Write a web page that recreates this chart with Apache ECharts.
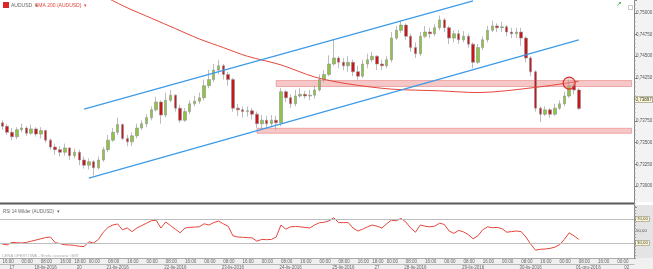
<!DOCTYPE html>
<html>
<head>
<meta charset="utf-8">
<script src="https://cdn.jsdelivr.net/npm/echarts@6/dist/echarts.min.js"></script>
<style>
html,body{margin:0;padding:0;background:#fff;}
#main{width:653px;height:269px;}
</style>
</head>
<body>
<div id="main"></div>
<script>
/* sesje: etykieta dnia, godzina od, godzina do (swiece 2h) */
var days = [
    ["17", 16, 24],
    ["18-lis-2016", 0, 22],
    ["20", 18, 24],
    ["21-lis-2016", 0, 24],
    ["22-lis-2016", 0, 24],
    ["23-lis-2016", 0, 24],
    ["24-lis-2016", 0, 24],
    ["25-lis-2016", 0, 22],
    ["27", 18, 24],
    ["28-lis-2016", 0, 24],
    ["29-lis-2016", 0, 24],
    ["30-lis-2016", 0, 24],
    ["01-gru-2016", 0, 24],
    ["02", 0, 8]
];

var firstOpen = 0.7373;
var closes = [
    0.7369,0.7362,0.7357,0.7365,0.7367,0.7361,0.7366,0.7360,0.7364,0.7353,
    0.7345,0.7342,0.7339,0.7344,0.7335,0.7339,0.7330,0.7324,0.7328,0.7321,
    0.7330,0.7342,0.7353,0.7362,0.7371,0.7355,0.7351,0.7358,0.7367,0.7372,
    0.7379,0.7388,0.7397,0.7382,0.7399,0.7405,0.7390,0.7376,0.7386,0.7395,
    0.7398,0.7402,0.7416,0.7423,0.7434,0.7439,0.7429,0.7423,0.7390,0.7388,
    0.7386,0.7387,0.7383,0.7372,0.7376,0.7372,0.7376,0.7373,0.7409,0.7402,
    0.7395,0.7404,0.7406,0.7404,0.7405,0.7411,0.7423,0.7429,0.7441,0.7448,
    0.7443,0.7439,0.7443,0.7432,0.7427,0.7441,0.7446,0.7450,0.7441,0.7439,
    0.7446,0.7471,0.7480,0.7486,0.7473,0.7460,0.7453,0.7473,0.7478,0.7476,
    0.7483,0.7492,0.7483,0.7471,0.7476,0.7469,0.7473,0.7464,0.7443,0.7460,
    0.7469,0.7480,0.7485,0.7483,0.7484,0.7478,0.7476,0.7478,0.7471,0.7448,
    0.7432,0.7390,0.7383,0.7388,0.7383,0.7390,0.7395,0.7404,0.7416,0.7411,
    0.73897
];
var highs = [
    0.7376,0.7372,0.7367,0.7368,0.7372,0.7369,0.7371,0.7368,0.7368,0.7365,
    0.7355,0.7349,0.7346,0.7349,0.7345,0.7343,0.7342,0.7334,0.7332,0.7330,
    0.7334,0.7345,0.7359,0.7367,0.7379,0.7372,0.7359,0.7362,0.7372,0.7376,
    0.7383,0.7392,0.7403,0.7399,0.7408,0.7411,0.7406,0.7394,0.7390,0.7399,
    0.7404,0.7408,0.7423,0.7434,0.7441,0.7446,0.7441,0.7432,0.7425,0.7395,
    0.7392,0.7392,0.7390,0.7386,0.7382,0.7381,0.7382,0.7381,0.7413,0.7411,
    0.7406,0.7411,0.7413,0.7410,0.7411,0.7416,0.7429,0.7434,0.7451,0.7469,
    0.7450,0.7448,0.7450,0.7446,0.7439,0.7446,0.7453,0.7455,0.7451,0.7446,
    0.7450,0.7478,0.7485,0.7491,0.7488,0.7476,0.7466,0.7478,0.7485,0.7483,
    0.7487,0.7497,0.7494,0.7485,0.7480,0.7480,0.7479,0.7476,0.7466,0.7464,
    0.7473,0.7485,0.7491,0.7488,0.7490,0.7486,0.7483,0.7483,0.7483,0.7473,
    0.7450,0.7434,0.7392,0.7392,0.7390,0.7395,0.7399,0.7409,0.7423,0.7420,
    0.7413
];
var lows = [
    0.7365,0.7359,0.7353,0.7354,0.7362,0.7358,0.7359,0.7357,0.7355,0.7350,
    0.7342,0.7336,0.7334,0.7335,0.7330,0.7332,0.7324,0.7320,0.7319,0.7312,
    0.7319,0.7328,0.7339,0.7351,0.7359,0.7353,0.7346,0.7346,0.7355,0.7365,
    0.7368,0.7376,0.7386,0.7372,0.7379,0.7397,0.7386,0.7373,0.7374,0.7383,
    0.7392,0.7395,0.7399,0.7413,0.7420,0.7429,0.7423,0.7416,0.7386,0.7381,
    0.7379,0.7380,0.7377,0.7367,0.7365,0.7367,0.7368,0.7365,0.7369,0.7397,
    0.7390,0.7392,0.7402,0.7401,0.7399,0.7401,0.7409,0.7420,0.7427,0.7439,
    0.7436,0.7434,0.7432,0.7427,0.7423,0.7425,0.7436,0.7443,0.7434,0.7434,
    0.7436,0.7443,0.7469,0.7477,0.7469,0.7455,0.7448,0.7450,0.7471,0.7471,
    0.7473,0.7480,0.7478,0.7464,0.7466,0.7464,0.7466,0.7460,0.7436,0.7441,
    0.7457,0.7466,0.7478,0.7478,0.7478,0.7473,0.7471,0.7471,0.7462,0.7443,
    0.7427,0.7386,0.7374,0.7381,0.7379,0.7381,0.7388,0.7392,0.7402,0.7406,
    0.7388
];

/* SMA 200 - punkty */
var smaIdx = [22, 26, 31, 36, 41, 46, 51, 58, 65, 72, 81, 91, 99, 111, 120];
var smaVal = [0.7517,0.7506,0.7494,0.7482,0.7470,0.7460,0.7450,0.7440,0.7426,0.7418,0.7412,0.7410,0.7408,0.7414,0.7421];

var rsi = [
    28,27,31,30.5,30,31,33,35,37,39,
    40,30.5,29,27,26.7,26,24.5,24,32,30,
    36,48,56,60,61.7,52,55,49,55,59,
    63,67,68,55,65,59,53,47,55,56,
    56.5,57,62,60,64,66.5,62,58,42,40,
    39.5,39,38.5,33,36,35.5,36,40,60,53,
    57,57.5,57,56,55,60,63.8,64.5,67,72,
    64,64,64,55,50,53,57,60,58,55,
    62,68,67,71,65,55,48,60,58,57,
    58,63,61,50,46,51,48.5,44,37,42,
    52,57,55.5,56,54,48,49,50,49,40,
    28,18,19.5,20,21,23,27,36,47,42,
    36
];

var lastPrice = 0.73897;
var upperLine = [[17, 0.7389], [98, 0.7514]];
var lowerLine = [[18, 0.7309], [120, 0.7469]];
var resistance = [57, 0.7422, 0.7415];
var support = [53, 0.73667, 0.73609];
var circleAt = [118, 0.7419];

function pad(h){ return (h < 10 ? "0" : "") + h; }

var categories = [], hourOf = [], dayStart = {}, dayMid = {};
for (var d = 0; d < days.length; d++) {
    var start = categories.length;
    for (var h = days[d][1]; h < days[d][2]; h += 2) {
        categories.push(days[d][0] + " " + pad(h) + ":00");
        hourOf.push(h);
    }
    dayStart[start] = true;
    dayMid[start + Math.floor((categories.length - start) / 2)] = days[d][0];
}

var ohlc = [];
for (var i = 0; i < closes.length; i++) {
    var o = i === 0 ? firstOpen : closes[i - 1];
    ohlc.push([o, closes[i], lows[i], highs[i]]);
}
var sma = [];
for (var i = 0; i < categories.length; i++) sma.push(null);
for (var k = 0; k < smaIdx.length; k++) sma[smaIdx[k]] = smaVal[k];

function timeTick(i){ return hourOf[i] % 8 === 0 || dayStart[i] === true; }
function dayTick(i){ return dayStart[i] === true; }
function midTick(i){ return dayMid[i] != null; }
function fmtPrice(v){ return v.toFixed(5).replace(".", ","); }

var red = "#e5463c";
var chart = echarts.init(document.getElementById("main"));
var option = {
    animation: false,
    backgroundColor: "#fff",
    textStyle: {fontFamily: "Liberation Sans"},
    grid: [
        {left: 0, top: 0, width: 634, height: 207.6, outerBoundsMode: "none"},
        {left: 0, top: 205.8, width: 634, height: 52.2, outerBoundsMode: "none"}
    ],
    xAxis: [
        {gridIndex: 0, type: "category", data: categories, boundaryGap: true, show: false},
        {
            gridIndex: 1, type: "category", data: categories, boundaryGap: true, position: "bottom",
            axisLine: {lineStyle: {color: "#aaa", width: 1}},
            axisTick: {interval: timeTick, length: 6, lineStyle: {color: "#bbb"}},
            axisLabel: {
                interval: timeTick, fontSize: 4.5, color: "#666", align: "left", margin: 1.5,
                formatter: function(v){ return v.split(" ")[1]; }
            }
        },
        {
            gridIndex: 1, type: "category", data: categories, boundaryGap: true, position: "bottom", offset: 6,
            axisLine: {lineStyle: {color: "#bbb", width: 1}},
            axisTick: {interval: dayTick, length: 5, lineStyle: {color: "#bbb"}},
            axisLabel: {
                interval: midTick, fontSize: 4.5, color: "#666", margin: 0.8,
                formatter: function(v, i){ return dayMid[i] || ""; }
            }
        }
    ],
    yAxis: [
        {
            gridIndex: 0, type: "value", position: "right",
            min: 0.7275, max: 0.751503, interval: 0.0025,
            axisLine: {show: true, lineStyle: {color: "#888"}},
            axisTick: {show: true, length: 3, lineStyle: {color: "#888"}},
            minorTick: {show: true, splitNumber: 5, length: 1.5, lineStyle: {color: "#999"}},
            splitLine: {show: false},
            axisLabel: {
                fontSize: 4.5, color: "#555", margin: 2,
                formatter: function(v){
                    var q = v / 0.0025;
                    if (Math.abs(q - Math.round(q)) > 1e-6 || v < 0.7299) return "";
                    return fmtPrice(v);
                }
            }
        },
        {
            gridIndex: 1, type: "value", position: "right",
            min: 5, max: 92, interval: 5,
            axisLine: {show: true, lineStyle: {color: "#888"}},
            axisTick: {show: true, length: 2, lineStyle: {color: "#999"}},
            splitLine: {show: false},
            axisLabel: {
                fontSize: 4.4, color: "#555", margin: 2,
                formatter: function(v){
                    if (v === 70 || v === 30) return "{b|" + v + ",00}";
                    if (v === 50) return "50,00";
                    return "";
                },
                rich: {b: {backgroundColor: "#fdf8d0", borderColor: "#777", borderWidth: 0.5, padding: [0.5, 1], fontSize: 4.4, color: "#444"}}
            }
        }
    ],
    series: [
        {
            name: "AUDUSD", type: "candlestick", xAxisIndex: 0, yAxisIndex: 0,
            data: ohlc, barWidth: 3,
            itemStyle: {color: "#8cc63e", color0: "#c8161d", borderColor: "#8e8e8e", borderColor0: "#8e8e8e", borderWidth: 0.6},
            markArea: {
                silent: true,
                itemStyle: {color: "rgba(236,120,120,0.42)", borderColor: "rgba(220,100,100,0.45)", borderWidth: 1},
                data: [
                    [{xAxis: resistance[0], yAxis: resistance[1]}, {xAxis: 131, yAxis: resistance[2]}],
                    [{xAxis: support[0], yAxis: support[1]}, {xAxis: 131, yAxis: support[2]}]
                ]
            },
            markLine: {
                silent: true, symbol: ["none", "none"],
                lineStyle: {color: "#3d9be9", width: 1.3, type: "solid"},
                label: {show: false},
                data: [
                    [{coord: upperLine[0]}, {coord: upperLine[1]}],
                    [{coord: lowerLine[0]}, {coord: lowerLine[1]}],
                    {
                        yAxis: lastPrice, lineStyle: {color: "rgba(0,0,0,0)", width: 0},
                        label: {
                            show: true, position: "end", distance: 1, fontSize: 4.5, color: "#333",
                            backgroundColor: "#fdf8d0", borderColor: "#777", borderWidth: 0.5, padding: [0.5, 0.5],
                            formatter: function(){ return fmtPrice(lastPrice); }
                        }
                    }
                ]
            },
            markPoint: {
                silent: true, symbol: "circle", symbolSize: 12, label: {show: false},
                itemStyle: {color: "rgba(240,150,150,0.35)", borderColor: "#d93030", borderWidth: 1.2},
                data: [{coord: circleAt}]
            }
        },
        {
            name: "SMA 200", type: "line", xAxisIndex: 0, yAxisIndex: 0,
            data: sma, connectNulls: true, smooth: 0.3, symbol: "none",
            lineStyle: {color: red, width: 1}
        },
        {
            name: "RSI", type: "line", xAxisIndex: 1, yAxisIndex: 1,
            data: rsi, symbol: "none",
            lineStyle: {color: red, width: 1},
            markLine: {
                silent: true, symbol: ["none", "none"], label: {show: false},
                lineStyle: {color: "#bdbdbd", width: 1, type: "solid"},
                data: [{yAxis: 70}, {yAxis: 30}]
            }
        }
    ],
    graphic: [
        {type: "rect", left: 635, top: 0, z: -1, shape: {width: 18, height: 202}, style: {fill: "#f3f3f3"}},
        {type: "rect", left: 635, top: 205, z: -1, shape: {width: 18, height: 53}, style: {fill: "#e4e4e4"}},
        {type: "rect", left: 0, top: 258, z: -1, shape: {width: 653, height: 11}, style: {fill: "#f0f0f0"}},
        {type: "rect", left: 0, top: 202.5, shape: {width: 634, height: 2}, style: {fill: "#5b5b5b"}},
        {type: "rect", left: 3, top: 2, shape: {width: 6, height: 6}, style: {fill: "#d9262c"}},
        {type: "text", left: 11, top: 3, style: {text: "AUDUSD  \u25be", fontSize: 5, fill: "#666"}},
        {type: "text", left: 35, top: 3, style: {text: "SMA 200 (AUDUSD)  \u25be", fontSize: 5, fill: red}},
        {type: "text", left: 616, top: 1, style: {text: "\u2197", fontSize: 7, fill: "#3aa34a"}},
        {type: "rect", left: 626, top: 3, shape: {width: 4, height: 4}, style: {fill: "none", stroke: "#bbb", lineWidth: 0.8}},
        {type: "text", left: 3, top: 209, style: {text: "RSI 14 Wilder (AUDUSD)  \u25be", fontSize: 4.5, fill: "#666"}},
        {type: "text", left: 2, top: 254, style: {text: "CENA OFERTOWA - Strefa czasowa: GMT", fontSize: 4, fill: "#aaa"}}
    ]
};
chart.setOption(option);
</script>
</body>
</html>
